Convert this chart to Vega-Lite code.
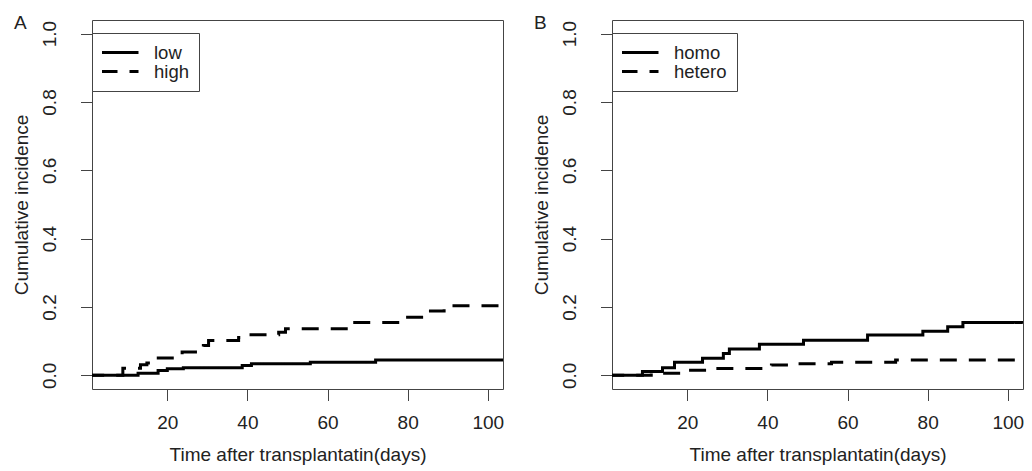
{
  "$schema": "https://vega.github.io/schema/vega-lite/v6.json",
  "background": "white",
  "padding": {"left": 11, "top": 13, "right": 5, "bottom": 5},
  "spacing": 109,
  "bounds": "flush",
  "config": {
    "font": "Liberation Sans",
    "view": {"stroke": "#444", "strokeWidth": 1},
    "axis": {"domain": false, "grid": false, "tickColor": "#444", "tickSize": 11.5, "tickWidth": 1,
      "labelFont": "Liberation Sans", "labelFontSize": 19, "labelColor": "#222",
      "titleFont": "Liberation Sans", "titleFontSize": 19, "titleFontWeight": "normal", "titleColor": "#222"},
    "legend": {"orient": "none", "legendX": 0, "legendY": 13, "title": null, "symbolType": "stroke", "symbolSize": 1444,
      "symbolStrokeWidth": 3, "symbolStrokeColor": "black", "symbolOffset": -3, "clipHeight": 19, "labelFont": "Liberation Sans", "labelFontSize": 18.5, "labelColor": "#222",
      "labelOffset": 14, "padding": 10, "rowPadding": 0, "strokeColor": "#444", "fillColor": "white"},
    "title": {"font": "Liberation Sans", "fontSize": 19, "fontWeight": "normal", "color": "#222", "anchor": "start", "frame": "group",
      "dx": -78, "offset": -13, "baseline": "alphabetic"}
  },
  "datasets": {
    "a": [
      {"group": "low", "day": 0, "ci": 0},
      {"group": "low", "day": 12.7, "ci": 0.006},
      {"group": "low", "day": 17.7, "ci": 0.014},
      {"group": "low", "day": 20, "ci": 0.019},
      {"group": "low", "day": 24, "ci": 0.022},
      {"group": "low", "day": 38.7, "ci": 0.029},
      {"group": "low", "day": 41, "ci": 0.034},
      {"group": "low", "day": 55.7, "ci": 0.038},
      {"group": "low", "day": 72, "ci": 0.045},
      {"group": "low", "day": 103.8, "ci": 0.045},
      {"group": "high", "day": 0, "ci": 0},
      {"group": "high", "day": 8.9, "ci": 0.021},
      {"group": "high", "day": 13.3, "ci": 0.031},
      {"group": "high", "day": 14.9, "ci": 0.036},
      {"group": "high", "day": 16.5, "ci": 0.051},
      {"group": "high", "day": 23.7, "ci": 0.068},
      {"group": "high", "day": 29, "ci": 0.087},
      {"group": "high", "day": 30.3, "ci": 0.102},
      {"group": "high", "day": 37.8, "ci": 0.111},
      {"group": "high", "day": 39.5, "ci": 0.119},
      {"group": "high", "day": 47.8, "ci": 0.126},
      {"group": "high", "day": 49.5, "ci": 0.136},
      {"group": "high", "day": 65.7, "ci": 0.155},
      {"group": "high", "day": 78.9, "ci": 0.17},
      {"group": "high", "day": 84.9, "ci": 0.188},
      {"group": "high", "day": 89.1, "ci": 0.204},
      {"group": "high", "day": 103.8, "ci": 0.204}
    ],
    "b": [
      {"group": "homo", "day": 0, "ci": 0},
      {"group": "homo", "day": 8.8, "ci": 0.011},
      {"group": "homo", "day": 13.8, "ci": 0.022},
      {"group": "homo", "day": 16.8, "ci": 0.038},
      {"group": "homo", "day": 23.8, "ci": 0.05},
      {"group": "homo", "day": 29, "ci": 0.064},
      {"group": "homo", "day": 30.5, "ci": 0.077},
      {"group": "homo", "day": 38, "ci": 0.091},
      {"group": "homo", "day": 49, "ci": 0.103},
      {"group": "homo", "day": 65, "ci": 0.118},
      {"group": "homo", "day": 78.8, "ci": 0.129},
      {"group": "homo", "day": 85, "ci": 0.142},
      {"group": "homo", "day": 88.8, "ci": 0.155},
      {"group": "homo", "day": 103.8, "ci": 0.155},
      {"group": "hetero", "day": 0, "ci": 0},
      {"group": "hetero", "day": 11, "ci": 0.006},
      {"group": "hetero", "day": 18.5, "ci": 0.015},
      {"group": "hetero", "day": 26, "ci": 0.02},
      {"group": "hetero", "day": 41, "ci": 0.03},
      {"group": "hetero", "day": 47, "ci": 0.034},
      {"group": "hetero", "day": 56, "ci": 0.038},
      {"group": "hetero", "day": 72, "ci": 0.045},
      {"group": "hetero", "day": 103.8, "ci": 0.045}
    ]
  },
  "resolve": {"scale": {"strokeDash": "independent", "x": "independent", "y": "independent"}, "legend": {"strokeDash": "independent"}},
  "hconcat": [
    {
      "width": 411, "height": 369,
      "title": {"text": "A"},
      "data": {"name": "a"},
      "mark": {"type": "line", "interpolate": "step-after", "strokeWidth": 3, "color": "black", "clip": true, "strokeCap": "butt"},
      "encoding": {
        "x": {"field": "day", "type": "quantitative", "scale": {"domain": [1.2, 103.8], "nice": false, "zero": false},
          "axis": {"values": [20, 40, 60, 80, 100], "title": "Time after transplantatin(days)", "labelBaseline": "alphabetic", "labelPadding": 27.8,
            "titleBaseline": "alphabetic", "titleX": 205.5, "titleY": 71.5, "titleAlign": "center"}},
        "y": {"field": "ci", "type": "quantitative", "scale": {"domain": [-0.04, 1.04], "nice": false, "zero": false},
          "axis": {"values": [0, 0.2, 0.4, 0.6, 0.8, 1.0], "format": ".1f", "labelAngle": 270, "labelAlign": "center", "labelBaseline": "alphabetic",
            "labelPadding": 24.8, "title": "Cumulative incidence", "titleAngle": 270, "titleBaseline": "alphabetic", "titleAlign": "center",
            "titleX": -65, "titleY": 184.5}},
        "strokeDash": {"field": "group", "type": "nominal", "scale": {"domain": ["low", "high"], "range": [[1, 0], [17, 12]]}, "legend": {}}
      }
    },
    {
      "width": 411, "height": 369,
      "title": {"text": "B"},
      "data": {"name": "b"},
      "mark": {"type": "line", "interpolate": "step-after", "strokeWidth": 3, "color": "black", "clip": true, "strokeCap": "butt"},
      "encoding": {
        "x": {"field": "day", "type": "quantitative", "scale": {"domain": [1.2, 103.8], "nice": false, "zero": false},
          "axis": {"values": [20, 40, 60, 80, 100], "title": "Time after transplantatin(days)", "labelBaseline": "alphabetic", "labelPadding": 27.8,
            "titleBaseline": "alphabetic", "titleX": 205.5, "titleY": 71.5, "titleAlign": "center"}},
        "y": {"field": "ci", "type": "quantitative", "scale": {"domain": [-0.04, 1.04], "nice": false, "zero": false},
          "axis": {"values": [0, 0.2, 0.4, 0.6, 0.8, 1.0], "format": ".1f", "labelAngle": 270, "labelAlign": "center", "labelBaseline": "alphabetic",
            "labelPadding": 24.8, "title": "Cumulative incidence", "titleAngle": 270, "titleBaseline": "alphabetic", "titleAlign": "center",
            "titleX": -65, "titleY": 184.5}},
        "strokeDash": {"field": "group", "type": "nominal", "scale": {"domain": ["homo", "hetero"], "range": [[1, 0], [17, 12]]}, "legend": {}}
      }
    }
  ]
}
